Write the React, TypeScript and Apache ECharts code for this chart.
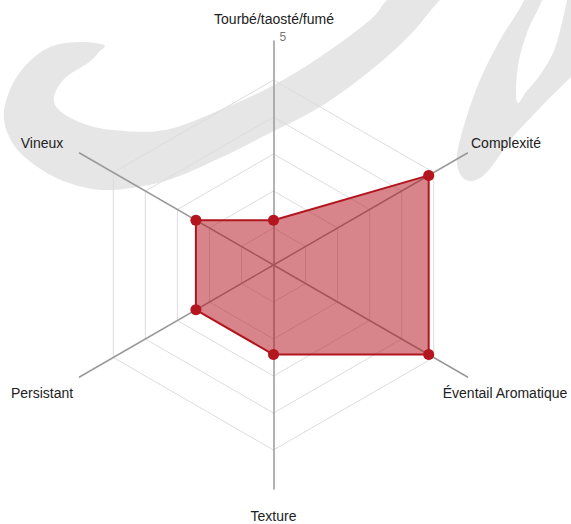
import React, { useEffect, useRef } from 'react';
import * as echarts from 'echarts';

// ---- data ----
const indicators = ['Tourbé/taosté/fumé', 'Vineux', 'Persistant', 'Texture', 'Éventail Aromatique', 'Complexité'];
const values = [1, 2, 2, 2, 4, 4];
const maxValue = 5;
const tickLabels = ['5'];

// ---- layout (not data) ----
const CX = 273.5;
const CY = 265;
const AXIS_R = 224;
const RING_R = 185;
const namePos: [number, number][] = [
  [274, 18.5],
  [42, 143],
  [42, 393],
  [273.5, 516],
  [505, 393],
  [506, 143],
];

// watermark outline (decoration)
const leftStroke: [number, number][] = [
  [104, 45], [80, 42], [50, 47], [25, 66], [9, 92], [4, 120], [16, 148], [42, 170], [72, 184],
  [110, 190], [165, 181], [220, 158], [270, 133], [320, 107], [370, 71], [410, 35], [440, 0],
  [472, -28], [418, -28], [387, 0], [370, 20], [320, 57], [270, 87], [220, 110], [165, 130],
  [112, 130], [82, 123], [60, 111], [54, 97], [65, 78], [88, 63], [99, 52],
];

const rightStroke: [number, number][] = [
  [538, -25], [520, 8], [500, 40], [480, 80], [465, 122], [457, 155], [460, 174], [470, 181],
  [483, 176], [495, 162], [512, 138], [540, 108], [571, 77], [595, 55], [595, -25], [572, -25],
  [566, 5], [555, 48], [540, 75], [526, 92], [518, 103], [516, 90], [519, 60], [528, 30],
  [540, 5], [552, -25],
];

function closedSpline(pts: [number, number][]): string {
  const n = pts.length;
  const f = (v: number) => v.toFixed(2);
  let d = `M${f(pts[0][0])} ${f(pts[0][1])}`;
  for (let i = 0; i < n; i++) {
    const p0 = pts[(i - 1 + n) % n];
    const p1 = pts[i];
    const p2 = pts[(i + 1) % n];
    const p3 = pts[(i + 2) % n];
    const c1x = p1[0] + (p2[0] - p0[0]) / 6;
    const c1y = p1[1] + (p2[1] - p0[1]) / 6;
    const c2x = p2[0] - (p3[0] - p1[0]) / 6;
    const c2y = p2[1] - (p3[1] - p1[1]) / 6;
    d += ` C${f(c1x)} ${f(c1y)} ${f(c2x)} ${f(c2y)} ${f(p2[0])} ${f(p2[1])}`;
  }
  return d + ' Z';
}

export default function App() {
  const ref = useRef<HTMLDivElement>(null);
  useEffect(() => {
    echarts.graphic.registerShape('wmLeft', echarts.graphic.extendPath(closedSpline(leftStroke), {}));
    echarts.graphic.registerShape('wmRight', echarts.graphic.extendPath(closedSpline(rightStroke), {}));
    const chart = echarts.init(ref.current!, null, { renderer: 'svg' });
    const font = '14px "Liberation Sans", Arial, sans-serif';
    const graphic: any[] = [
      { type: 'wmLeft', z: -10, silent: true, x: 0, y: 0, scaleX: 1, scaleY: 1, style: { fill: '#e6e6e6' } },
      { type: 'wmRight', z: -10, silent: true, x: 0, y: 0, scaleX: 1, scaleY: 1, style: { fill: '#e6e6e6' } },
      ...indicators.map((n, i) => ({
        type: 'text', z: 100, x: namePos[i][0], y: namePos[i][1], silent: true,
        style: { text: n, fill: '#222', font, align: 'center', verticalAlign: 'middle', textAlign: 'center', textVerticalAlign: 'middle' },
      })),
      {
        type: 'text', z: 100, x: CX + 6, y: CY - AXIS_R - 4.5, silent: true,
        style: { text: tickLabels[0], fill: '#777', font: '12px "Liberation Sans", Arial, sans-serif', align: 'left', verticalAlign: 'middle', textAlign: 'left', textVerticalAlign: 'middle' },
      },
    ];
    const option: any = {
      animation: false,
      backgroundColor: '#ffffff',
      radar: [
        {
          center: [CX, CY], radius: AXIS_R, startAngle: 90, shape: 'polygon', splitNumber: 5,
          indicator: indicators.map((n) => ({ name: n, min: 0, max: maxValue })),
          axisName: { show: false },
          axisLine: { show: true, lineStyle: { color: '#999999', width: 1.5 } },
          splitLine: { show: false }, splitArea: { show: false },
          axisTick: { show: false }, axisLabel: { show: false },
        },
        {
          center: [CX, CY], radius: RING_R, startAngle: 90, shape: 'polygon', splitNumber: 5,
          indicator: indicators.map(() => ({ name: '', min: 0, max: maxValue })),
          axisName: { show: false },
          axisLine: { show: false },
          splitLine: { show: true, lineStyle: { color: '#dddddd', width: 1 } },
          splitArea: { show: false },
          axisTick: { show: false }, axisLabel: { show: false },
        },
      ],
      series: [
        {
          type: 'radar', radarIndex: 0, symbol: 'circle', symbolSize: 11,
          lineStyle: { color: '#b3161f', width: 2 },
          itemStyle: { color: '#b3161f' },
          areaStyle: { color: '#b3161f', opacity: 0.52 },
          data: [{ name: 'Profil', value: values }],
        },
      ],
      graphic,
    };
    chart.setOption(option);
    return () => chart.dispose();
  }, []);
  return <div ref={ref} style={{ position: 'fixed', left: 0, top: 0, width: 571, height: 524 }} />;
}
